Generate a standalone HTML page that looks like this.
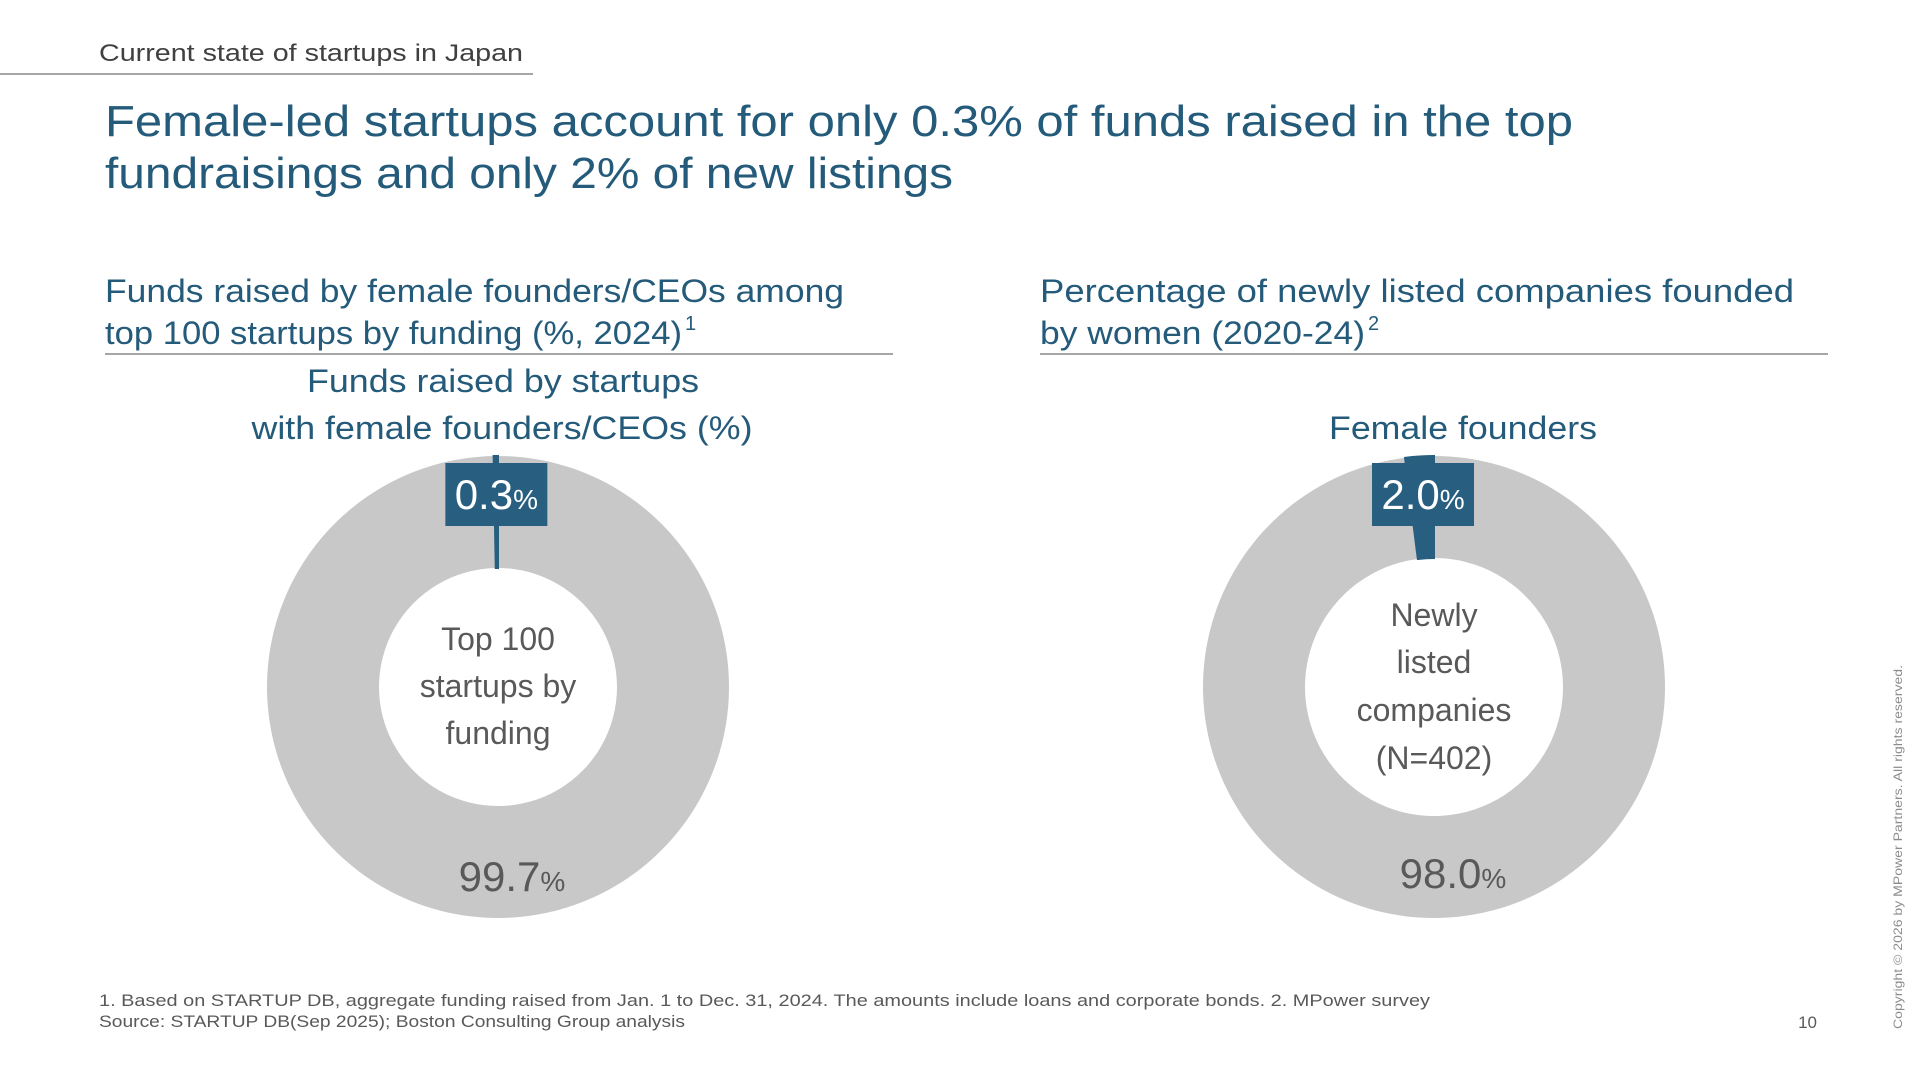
<!DOCTYPE html>
<html><head><meta charset="utf-8">
<style>
html,body{margin:0;padding:0;background:#fff;}
svg{display:block;}
text{font-family:"Liberation Sans",sans-serif;}
</style></head>
<body>
<svg id="slide" width="1920" height="1080" viewBox="0 0 1920 1080" xmlns="http://www.w3.org/2000/svg">
  <text x="99" y="61" font-size="24" fill="#404040" textLength="424" lengthAdjust="spacingAndGlyphs">Current state of startups in Japan</text>
  <line x1="0" y1="74" x2="533" y2="74" stroke="#a6a6a6" stroke-width="2"/>

  <g fill="#245a7a" font-size="44">
    <text x="105" y="136" textLength="1468" lengthAdjust="spacingAndGlyphs">Female-led startups account for only 0.3% of funds raised in the top</text>
    <text x="105" y="188" textLength="848" lengthAdjust="spacingAndGlyphs">fundraisings and only 2% of new listings</text>
  </g>

  <g fill="#245a7a" font-size="32">
    <text x="105" y="302" textLength="739" lengthAdjust="spacingAndGlyphs">Funds raised by female founders/CEOs among</text>
    <text x="105" y="344" textLength="577" lengthAdjust="spacingAndGlyphs">top 100 startups by funding (%, 2024)</text>
    <text x="685" y="330" font-size="20">1</text>
  </g>
  <line x1="105" y1="354" x2="893" y2="354" stroke="#a6a6a6" stroke-width="2"/>

  <g fill="#245a7a" font-size="32">
    <text x="1040" y="302" textLength="754" lengthAdjust="spacingAndGlyphs">Percentage of newly listed companies founded</text>
    <text x="1040" y="344" textLength="325" lengthAdjust="spacingAndGlyphs">by women (2020-24)</text>
    <text x="1368" y="330" font-size="20">2</text>
  </g>
  <line x1="1040" y1="354" x2="1828" y2="354" stroke="#a6a6a6" stroke-width="2"/>

  <g fill="#245a7a" font-size="32" text-anchor="middle">
    <text x="503" y="392" textLength="392" lengthAdjust="spacingAndGlyphs">Funds raised by startups</text>
    <text x="502" y="439" textLength="501" lengthAdjust="spacingAndGlyphs">with female founders/CEOs (%)</text>
  </g>
  <text x="1463" y="439" fill="#245a7a" font-size="32" text-anchor="middle" textLength="268" lengthAdjust="spacingAndGlyphs">Female founders</text>

  <g id="charts"></g>

  <g fill="#595959" font-size="17">
    <text x="99" y="1006" textLength="1331" lengthAdjust="spacingAndGlyphs">1. Based on STARTUP DB, aggregate funding raised from Jan. 1 to Dec. 31, 2024. The amounts include loans and corporate bonds. 2. MPower survey</text>
    <text x="99" y="1027" textLength="586" lengthAdjust="spacingAndGlyphs">Source: STARTUP DB(Sep 2025); Boston Consulting Group analysis</text>
  </g>
  <text x="1817" y="1028" fill="#595959" font-size="17" text-anchor="end">10</text>
  <text transform="translate(1902,1029) rotate(-90)" fill="#8c8c8c" font-size="12" textLength="364" lengthAdjust="spacingAndGlyphs">Copyright © 2026 by MPower Partners. All rights reserved.</text>
</svg>
<script>
const chartNames = ["funding-donut", "listings-donut"];
const femaleShare = [0.3, 2.0];
const otherShare = [99.7, 98.0];
const femaleLabels = ["0.3", "2.0"];
const otherLabels = ["99.7", "98.0"];
const centerLabels = [["Top 100", "startups by", "funding"], ["Newly", "listed", "companies", "(N=402)"]];

const NS = "http://www.w3.org/2000/svg";
const layout = [
  {cx: 498, cy: 687, ro: 231, ri: 119, centerY: [639, 686, 733], otherDx: 14, otherY: 891},
  {cx: 1434, cy: 687, ro: 231, ri: 129, centerY: [615, 662, 710, 758], otherDx: 19, otherY: 888}
];
function angleScale(v, total) { return v / total * 2 * Math.PI; }
function pt(cx, cy, r, a) { return [cx + r * Math.sin(a), cy - r * Math.cos(a)]; }
function arcPath(cx, cy, ro, ri, a0, a1) {
  const large = (a1 - a0) > Math.PI ? 1 : 0;
  const p0 = pt(cx, cy, ro, a0), p1 = pt(cx, cy, ro, a1), p2 = pt(cx, cy, ri, a1), p3 = pt(cx, cy, ri, a0);
  return `M${p0[0]},${p0[1]} A${ro},${ro} 0 ${large} 1 ${p1[0]},${p1[1]} L${p2[0]},${p2[1]} A${ri},${ri} 0 ${large} 0 ${p3[0]},${p3[1]} Z`;
}
function mk(tag, attrs, parent) {
  const e = document.createElementNS(NS, tag);
  for (const k in attrs) e.setAttribute(k, attrs[k]);
  parent.appendChild(e);
  return e;
}
const root = document.getElementById("charts");
chartNames.forEach((name, i) => {
  const L = layout[i];
  const total = femaleShare[i] + otherShare[i];
  const aF = angleScale(femaleShare[i], total);
  const g = mk("g", {}, root);
  
  
  // other slice: from 0 clockwise to 2π - aF
  const other = mk("path", {d: arcPath(L.cx, L.cy, L.ro, L.ri, 0, 2 * Math.PI - aF), fill: "#c8c8c8"}, g);
  
  
  const fem = mk("path", {d: arcPath(L.cx, L.cy, L.ro, L.ri, 2 * Math.PI - aF, 2 * Math.PI), fill: "#285f80", stroke: "#285f80", "stroke-width": 2}, g);
  
  
  // label box
  const mid = 2 * Math.PI - aF / 2;
  const bx = L.cx + 175 * Math.sin(mid);
  const box = mk("rect", {x: bx - 51, y: 463, width: 102, height: 63, fill: "#285f80"}, g);
  
  
  const t = mk("text", {x: bx, y: 509, "text-anchor": "middle", fill: "#fff", "font-size": 42}, g);
  
  
  t.textContent = femaleLabels[i];
  const ts = mk("tspan", {"font-size": 28}, t); ts.textContent = "%";
  // center text
  centerLabels[i].forEach((line, j) => {
    const c = mk("text", {x: L.cx, y: L.centerY[j] + 11, "text-anchor": "middle", fill: "#595959", "font-size": 32}, g);
    
    
    c.textContent = line;
  });
  const o = mk("text", {x: L.cx + L.otherDx, y: L.otherY, "text-anchor": "middle", fill: "#595959", "font-size": 42}, g);
  
  
  o.textContent = otherLabels[i];
  const os = mk("tspan", {"font-size": 28}, o); os.textContent = "%";
});
</script>
</body></html>
